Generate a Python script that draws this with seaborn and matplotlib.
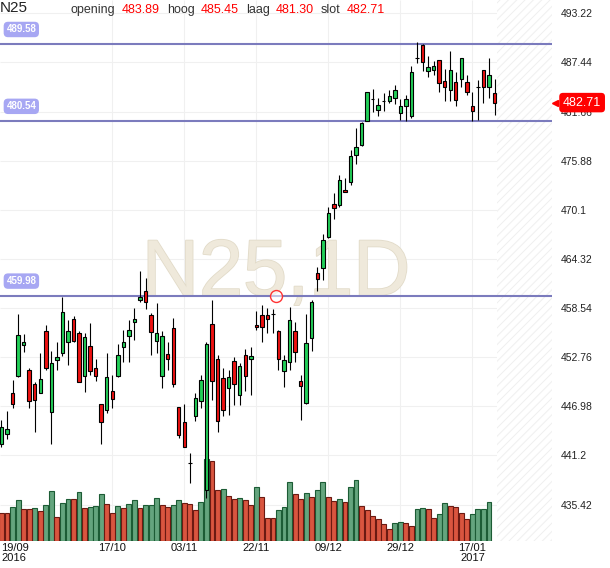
import matplotlib
matplotlib.use('Agg')
import matplotlib.pyplot as plt
import matplotlib.patheffects as pe
import numpy as np
import seaborn as sns

# Daily candles, 19/09/2016 .. 23/01/2017
opens = [442.5, 443.7, 448.5, 450.6, 454.2, 451.3, 449.6, 448.6, 455.9, 446.3,
         452.4, 453.3, 454.5, 457.3, 455.6, 450.6, 454.1, 451.5, 447.2, 446.5,
         448.8, 450.5, 454.0, 455.2, 456.9, 459.5, 460.6, 457.7, 454.7, 450.6,
         453.1, 456.2, 446.9, 445.1, 440.35, 445.8, 447.6, 437.1, 456.7, 452.5,
         450.3, 449.1, 452.3, 448.3, 453.0, 452.5, 456.6, 457.7, 457.7, 457.9,
         455.8, 451.1, 452.2, 455.8, 450.0, 447.4, 455.0, 462.7, 463.3, 466.9,
         470.8, 470.7, 472.4, 473.4, 476.5, 477.7, 480.6, 483.1, 481.8, 482.85,
         482.9, 483.3, 481.5, 482.3, 481.1, 488.0, 489.5, 486.4, 486.5, 487.7,
         485.2, 484.2, 485.1, 485.5, 485.1, 482.3, 484.6, 486.5, 484.5, 483.89]
highs = [445.4, 446.4, 450.1, 457.8, 455.5, 451.5, 449.8, 453.2, 456.6, 453.5,
         454.6, 459.9, 457.1, 457.6, 455.8, 455.6, 456.8, 452.6, 447.2, 453.3,
         450.7, 454.3, 456.0, 457.1, 458.5, 462.9, 462.1, 458.0, 459.1, 455.8,
         454.6, 457.4, 446.9, 447.3, 441.5, 448.5, 450.7, 454.5, 459.5, 453.0,
         451.5, 451.3, 452.8, 452.1, 453.7, 454.0, 458.2, 458.9, 458.5, 458.4,
         456.0, 453.0, 458.7, 456.9, 450.7, 457.8, 459.5, 463.4, 467.3, 470.4,
         472.1, 474.2, 473.8, 477.1, 479.7, 480.4, 484.0, 484.3, 483.2, 483.8,
         484.2, 484.8, 483.1, 483.6, 487.0, 489.8, 489.6, 488.2, 487.6, 487.7,
         486.7, 488.8, 486.3, 488.0, 486.0, 483.9, 485.4, 486.5, 488.0, 485.45]
lows = [442.2, 443.1, 446.8, 450.4, 453.4, 446.8, 444.0, 448.6, 451.3, 442.5,
        451.3, 452.9, 451.9, 454.5, 449.8, 448.7, 450.7, 450.0, 442.6, 446.2,
        446.8, 450.4, 452.2, 452.2, 454.8, 459.2, 458.4, 453.0, 453.3, 449.1,
        451.3, 449.3, 443.3, 442.2, 438.0, 445.2, 446.8, 436.2, 447.7, 444.0,
        445.8, 446.0, 447.1, 447.1, 448.8, 448.3, 456.0, 454.6, 455.6, 455.6,
        451.3, 449.3, 451.2, 452.2, 445.4, 447.3, 453.5, 460.6, 461.8, 466.8,
        469.0, 470.4, 472.2, 473.0, 475.5, 477.6, 480.5, 481.6, 481.1, 481.7,
        482.7, 482.6, 480.7, 480.6, 480.9, 487.4, 486.4, 485.7, 485.9, 483.9,
        482.9, 482.9, 482.3, 484.6, 483.6, 480.5, 480.7, 482.7, 483.3, 481.30]
closes = [444.5, 444.3, 447.3, 455.4, 454.5, 447.6, 447.7, 450.2, 451.5, 452.1,
          452.8, 458.1, 455.9, 454.7, 449.9, 455.1, 451.1, 450.5, 445.1, 450.4,
          447.9, 453.0, 454.6, 456.0, 457.3, 459.8, 459.2, 455.7, 455.6, 455.2,
          452.5, 449.6, 443.6, 442.2, 440.35, 448.0, 450.1, 454.3, 450.0, 445.3,
          446.6, 450.4, 449.6, 451.7, 450.5, 452.9, 456.3, 456.3, 457.3, 457.9,
          452.6, 452.4, 457.1, 453.4, 449.4, 454.4, 459.2, 462.0, 466.6, 469.7,
          470.3, 473.6, 472.2, 476.4, 477.5, 480.3, 483.9, 483.1, 482.4, 482.95,
          483.5, 484.2, 482.3, 483.1, 486.3, 488.0, 487.5, 486.9, 487.0, 485.0,
          484.6, 486.5, 483.0, 488.0, 484.0, 481.7, 484.6, 484.5, 485.9, 482.71]

# volume (relative units), the last session has no bar yet
volumes = [83, 83, 101, 122, 95, 95, 98, 89, 107, 149,
           71, 113, 125, 125, 146, 98, 101, 104, 140, 110,
           83, 104, 98, 110, 122, 98, 107, 107, 128, 107,
           101, 107, 122, 113, 110, 92, 116, 246, 240, 152,
           155, 134, 125, 128, 122, 107, 161, 131, 70, 70,
           92, 101, 176, 140, 125, 143, 131, 152, 176, 131,
           119, 125, 116, 161, 182, 104, 92, 74, 65, 51,
           35, 53, 56, 53, 44, 95, 98, 95, 68, 81,
           113, 104, 101, 83, 65, 81, 95, 95, 116]
vol_dir = ('RRGGRRGRGG' 'RGGRGRGGGR' 'RGRGGRGGGR' 'RGGRRRGGRR' 'GRRGRRGRRR'
           'GGGRRGRGGR' 'RGRGGRRRRR' 'RGGRRGGRRG' 'GRRRRGGGG')

date_ticks = [0, 20, 33, 46, 59, 72, 85]
date_labels = ['19/09\n2016', '17/10', '03/11', '22/11', '09/12', '29/12', '17/01\n2017']
price_ticks = [435.42, 441.2, 446.98, 452.76, 458.54, 464.32, 470.1, 475.88,
               481.66, 487.44, 493.22]
levels = [489.58, 480.54, 459.98]
alert = (49.5, 459.98)

sns.set_theme(style='white')
plt.rcParams['font.family'] = ['Liberation Sans', 'DejaVu Sans']
plt.rcParams['hatch.linewidth'] = 0.7

W, H = 610, 568
fig = plt.figure(figsize=(W / 100, H / 100), dpi=100)
ax = fig.add_axes([0, 27 / H, 552 / W, 541 / H])
ax_vol = ax.twinx()
ax.set_zorder(2)
ax_vol.set_zorder(1)
ax.patch.set_visible(False)

# faint grid, drawn in the lower axes so the volume bars cover it
ax_vol.hlines(price_ticks, 0, 1, transform=ax.get_yaxis_transform(),
              color='#f0f0f0', lw=0.8, zorder=0)
ax_vol.vlines(date_ticks[1:], 0, 1, transform=ax.get_xaxis_transform(),
              color='#f0f0f0', lw=0.8, zorder=0)

# volume bars
vi = np.arange(len(volumes))
vv = np.array(volumes)
dirs = np.array(list(vol_dir))
for key, fc, ec in [('G', '#64a57e', '#1c5c35'), ('R', '#d9553f', '#6b1a12')]:
    m = dirs == key
    sns.barplot(x=vi[m], y=vv[m], native_scale=True, orient='x', width=0.88,
                color=fc, saturation=1, edgecolor=ec, linewidth=0.8,
                errorbar=None, ax=ax_vol)
ax_vol.set_ylim(0, 541 * 3)
ax_vol.set_axis_off()

# candles
idx = np.arange(len(opens))
o, hi, lo, c = (np.array(a) for a in (opens, highs, lows, closes))
body_col = np.where(c >= o, '#22cf58', '#ee1111')
ax.vlines(idx, lo, hi, color='black', lw=0.8, zorder=4)
ax.bar(idx, c - o, bottom=o, width=0.62, color=body_col, edgecolor='black',
       linewidth=0.8, zorder=5)

ax.set_xlim(-0.27, 99.37)
ax.set_ylim(431.14, 494.78)

# future zone and watermark
ax.axvspan(len(opens) - 0.5, 99.37, facecolor='white', edgecolor='#efefef',
           hatch='////', lw=0, zorder=0.6)
ax.text(0.5, 0.4547, 'N25,1D', transform=ax.transAxes, ha='center', va='baseline',
        fontsize=57, color='#efe9db', zorder=1,
        path_effects=[pe.withStroke(linewidth=1.2, foreground='#e2dbc9')])

# horizontal levels
for lv in levels:
    ax.axhline(lv, color='#7b7bbd', lw=1.5, zorder=3)
    ax.annotate(f'{lv:.2f}', xy=(0, lv), xycoords=ax.get_yaxis_transform(),
                xytext=(4.6, 10.6), textcoords='offset points', ha='left', va='center',
                fontsize=7, fontweight='bold', color='white', zorder=6,
                bbox=dict(boxstyle='round,pad=0.28,rounding_size=0.45', fc='#a7a7f3', ec='none'))
ax.plot(*alert, marker='o', ms=8.6, mfc=(1, 1, 1, 0.55), mec='#ff3333', mew=1, zorder=6)

# axes styling
for s in ax.spines.values():
    s.set_visible(False)
ax.yaxis.tick_right()
ax.set_yticks(price_ticks)
ax.set_yticklabels([f'{p:g}' for p in price_ticks])
ax.tick_params(axis='y', length=0, pad=6.5, labelsize=7.5, labelcolor='#222222')
ax.set_xticks(date_ticks)
ax.set_xticklabels(date_labels)
ax.tick_params(axis='x', length=0, pad=1.5, labelsize=8, labelcolor='#111111')
xl = ax.get_xticklabels()
for lab in xl:
    lab.set_linespacing(0.95)
    lab.set_va('top')
xl[0].set_ha('left')
ax.grid(False)

# last price badge
last = closes[-1]
ax.text(1.0199, last, f'{last:.2f}', transform=ax.get_yaxis_transform(), ha='left',
        va='center', fontsize=9, color='white', zorder=10, clip_on=False,
        bbox=dict(boxstyle='round,pad=0.3,rounding_size=0.3', fc='#ff0000', ec='none'))
ax.plot([1.006], [last], marker='<', ms=5, color='#ff0000', transform=ax.get_yaxis_transform(),
        clip_on=False, zorder=10)

# header line
fig.text(0, 1 - 12.3 / H, 'N25', fontsize=11, color='#222222', va='baseline')
head = [('opening', 70.7, '#333333'), (f'{opens[-1]:.2f}', 121.3, '#ff0000'),
        ('hoog', 166.7, '#333333'), (f'{highs[-1]:.2f}', 200.7, '#ff0000'),
        ('laag', 246.0, '#333333'), (f'{lows[-1]:.2f}', 276.0, '#ff0000'),
        ('slot', 321.0, '#333333'), (f'{closes[-1]:.2f}', 346.7, '#ff0000')]
for txt, px, col in head:
    fig.text(px / W, 1 - 13.3 / H, txt, fontsize=9, color=col, va='baseline')

fig.savefig('out.png', dpi=100)
